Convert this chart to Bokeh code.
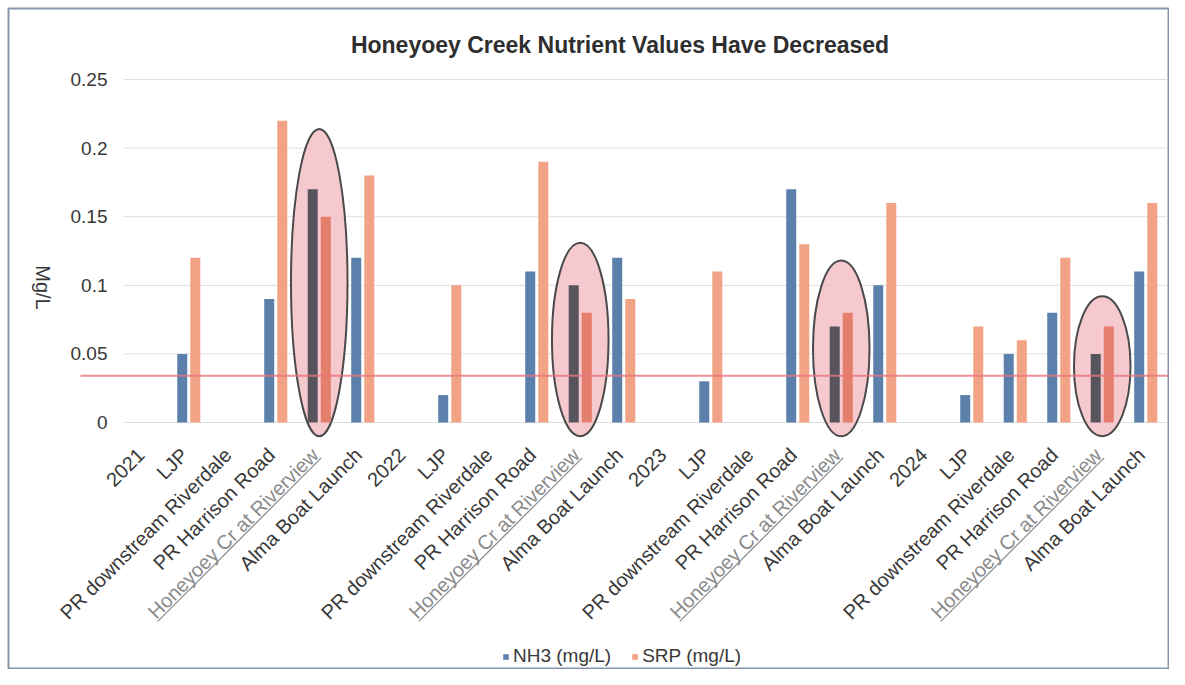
import math
from bokeh.plotting import figure
from bokeh.models import Range1d, Label, Legend, LegendItem, ColumnDataSource
from bokeh.core.properties import value
from bokeh.transform import dodge
from bokeh.embed import file_html
from bokeh.resources import INLINE

# ---------------- data ----------------
TITLE = "Honeyoey Creek Nutrient Values Have Decreased"
Y_LABEL = "Mg/L"
SERIES = ["NH3 (mg/L)", "SRP (mg/L)"]
CATEGORIES = [
    "2021", "LJP", "PR downstream Riverdale", "PR Harrison Road", "Honeyoey Cr at Riverview", "Alma Boat Launch",
    "2022", "LJP", "PR downstream Riverdale", "PR Harrison Road", "Honeyoey Cr at Riverview", "Alma Boat Launch",
    "2023", "LJP", "PR downstream Riverdale", "PR Harrison Road", "Honeyoey Cr at Riverview", "Alma Boat Launch",
    "2024", "LJP", "PR downstream Riverdale", "PR Harrison Road", "Honeyoey Cr at Riverview", "Alma Boat Launch",
]
NAN = float("nan")
NH3 = [NAN, 0.05, NAN, 0.09, 0.17, 0.12,
       NAN, 0.02, NAN, 0.11, 0.10, 0.12,
       NAN, 0.03, NAN, 0.17, 0.07, 0.10,
       NAN, 0.02, 0.05, 0.08, 0.05, 0.11]
SRP = [NAN, 0.12, NAN, 0.22, 0.15, 0.18,
       NAN, 0.10, NAN, 0.19, 0.08, 0.09,
       NAN, 0.11, NAN, 0.13, 0.08, 0.16,
       NAN, 0.07, 0.06, 0.12, 0.07, 0.16]
HIGHLIGHT = "Honeyoey Cr at Riverview"
ELLIPSE_TOP = [0.214, 0.131, 0.118, 0.092]
ELLIPSE_BOTTOM = -0.010
THRESHOLD = 0.034
Y_TICKS = [0, 0.05, 0.1, 0.15, 0.2, 0.25]
Y_TICK_LABELS = ["0", "0.05", "0.1", "0.15", "0.2", "0.25"]

# ---------------- style / layout ----------------
BLUE = "#5b80ab"
SALMON = "#f2a386"
HL_NH3 = "#57545e"
HL_SRP = "#e57f6d"
ELL_FILL = "#f4c3c8"
ELL_LINE = "#4a4a4a"
RED = "#e8747e"
TXT = "#383838"
GRAY_TXT = "#8a8a8a"
BORDER = "#8796aa"
FONT = "Liberation Sans"

W, H = 1169, 669
FL, FT, FR, FB = 8, 8, 1168, 668          # frame (outlined like the chart border)
PLOT_L, PLOT_R = 123, 1167                # category band area (px)
ZERO_PX, PXY = 422, 1372.0                # y=0 pixel and pixels per unit
NCAT = len(CATEGORIES)
PXX = (PLOT_R - PLOT_L) / NCAT

def dx(px):  # pixel column -> data x
    return (px - PLOT_L) / PXX - 0.5

def dy(py):  # pixel row -> data y
    return (ZERO_PX - py) / PXY

p = figure(width=W, height=H, x_range=Range1d(dx(FL), dx(FR)), y_range=Range1d(dy(FB), dy(FT)),
           output_backend="svg", toolbar_location=None,
           x_axis_type=None, y_axis_type=None,
           min_border_left=FL, min_border_top=FT, min_border_right=W - FR, min_border_bottom=H - FB)
p.title.visible = False
p.outline_line_color = BORDER
p.outline_line_width = 2
p.background_fill_color = "white"
p.border_fill_color = "white"

idx = list(range(NCAT))
norm = [i for i in idx if CATEGORIES[i] != HIGHLIGHT]
hl = [i for i in idx if CATEGORIES[i] == HIGHLIGHT]

# gridlines across the category band
p.segment(x0=-0.5, x1=NCAT - 0.5, y0=Y_TICKS, y1=Y_TICKS, line_color="#dedede", line_width=1)

# y tick labels
p.text(x=dx(PLOT_L - 16), y=Y_TICKS, text=Y_TICK_LABELS, text_align="right",
       text_baseline="middle", text_font=value(FONT), text_font_size=value("19px"),
       text_color=TXT)

# highlight ellipses
p.ellipse(x=hl, y=[(t + ELLIPSE_BOTTOM) / 2 for t in ELLIPSE_TOP], width=1.3,
          height=[t - ELLIPSE_BOTTOM for t in ELLIPSE_TOP],
          fill_color=ELL_FILL, fill_alpha=0.9, line_color=ELL_LINE, line_width=2)

# bars
src_n = ColumnDataSource(dict(x=norm, nh3=[NH3[i] for i in norm], srp=[SRP[i] for i in norm]))
src_h = ColumnDataSource(dict(x=hl, nh3=[NH3[i] for i in hl], srp=[SRP[i] for i in hl]))
BW, OFF = 0.23, 0.15
r_nh3 = p.vbar(x=dodge("x", -OFF, range=p.x_range), top="nh3", bottom=0, width=BW,
               source=src_n, fill_color=BLUE, line_color=None)
r_srp = p.vbar(x=dodge("x", OFF, range=p.x_range), top="srp", bottom=0, width=BW,
               source=src_n, fill_color=SALMON, line_color=None)
p.vbar(x=dodge("x", -OFF, range=p.x_range), top="nh3", bottom=0, width=BW,
       source=src_h, fill_color=HL_NH3, line_color=None)
p.vbar(x=dodge("x", OFF, range=p.x_range), top="srp", bottom=0, width=BW,
       source=src_h, fill_color=HL_SRP, line_color=None)

# threshold line
p.segment(x0=dx(80), x1=dx(FR), y0=THRESHOLD, y1=THRESHOLD,
          line_color=RED, line_width=2, line_alpha=0.8)

# category labels (rotated 45deg, right end at the category)
XFS = 20
LABEL_SHIFT = -0.1
LABEL_Y = dy(ZERO_PX + 29)
xlab = ColumnDataSource(dict(
    x=[i + LABEL_SHIFT for i in idx], y=[LABEL_Y] * NCAT, text=CATEGORIES,
    color=[GRAY_TXT if c == HIGHLIGHT else TXT for c in CATEGORIES]))
p.text(x="x", y="y", text="text", source=xlab, angle=math.pi / 4, text_align="right",
       text_baseline="middle", text_font=value(FONT), text_font_size=value(f"{XFS}px"),
       text_color="color")

# underline of the link-styled labels
c45 = math.cos(math.pi / 4)
u = 0.45 * XFS * c45
L = 11.56 * XFS * c45
p.segment(x0=[i + LABEL_SHIFT + u / PXX for i in hl], y0=[LABEL_Y - u / PXY] * len(hl),
          x1=[i + LABEL_SHIFT + (u - L) / PXX for i in hl], y1=[LABEL_Y - (u + L) / PXY] * len(hl),
          line_color=GRAY_TXT, line_width=1.2)

# title and y-axis label
p.add_layout(Label(x=dx(619.5), y=dy(44), text=TITLE, text_align="center",
                   text_baseline="middle", text_font=FONT, text_font_size="23px",
                   text_font_style="bold", text_color="#2e2e2e"))
p.add_layout(Label(x=dx(42), y=dy(287), text=Y_LABEL, angle=-math.pi / 2,
                   text_align="center", text_baseline="middle", text_font=FONT,
                   text_font_size="20px", text_color=TXT))

# legend
legend = Legend(items=[LegendItem(label=SERIES[0], renderers=[r_nh3]),
                       LegendItem(label=SERIES[1], renderers=[r_srp])],
                orientation="horizontal", location=(502 - FL, FB - 667),
                glyph_width=7, glyph_height=7, label_standoff=4, spacing=20,
                padding=0, margin=0, border_line_color=None, background_fill_alpha=0,
                label_text_font=FONT, label_text_font_size="19px", label_text_color=TXT)
p.add_layout(legend, "center")

open("out.html", "w").write(file_html(p, INLINE))
